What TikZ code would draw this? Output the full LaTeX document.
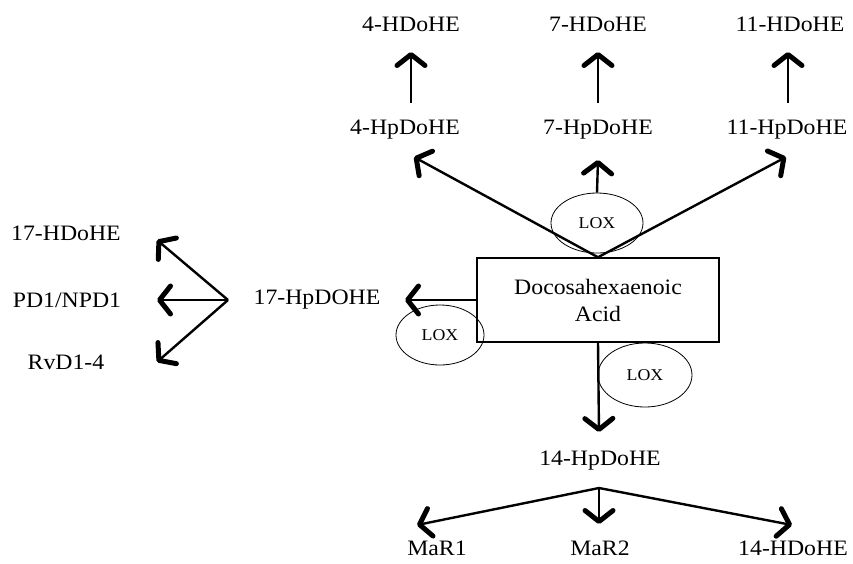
\documentclass[tikz,border=0pt]{standalone}
\usepackage{fontspec}
\setmainfont{Liberation Serif}[FakeStretch=1.08]
\usetikzlibrary{arrows.meta,shapes.geometric}
\begin{document}
\begin{tikzpicture}[x=1pt,y=-1pt,
  lbl/.style={font=\fontsize{22}{25}\selectfont, inner sep=2pt},
  lox/.style={draw, ellipse, line width=0.8pt, inner sep=0pt,
              font=\fontsize{16.5}{18}\selectfont},
  acidbox/.style={draw, line width=1.5pt, minimum width=242pt, minimum height=84pt,
                  align=center, font=\fontsize{22}{27}\selectfont},
  arr/.style={line width=2.4pt,
              -{Straight Barb[length=11pt,width=28pt,line width=5pt 0,round]}}]
\useasboundingbox (0,0) rectangle (853,563);

% upper branch products
\node[lbl] (h4)  at (411,24) {4-HDoHE};
\node[lbl] (h7)  at (598,24) {7-HDoHE};
\node[lbl] (h11) at (790,24) {11-HDoHE};
\node[lbl] (hp4)  at (405,130) {4-HpDoHE};
\node[lbl] (hp7)  at (598,130) {7-HpDoHE};
\node[lbl] (hp11) at (787,130) {11-HpDoHE};

% central substrate
\node[acidbox] (dha) at (598,300) {Docosahexaenoic\\Acid};

% enzymes
\node[lox, minimum width=92pt, minimum height=60pt] (lox1) at (597,223) {LOX};
\node[lox, minimum width=88pt, minimum height=60pt] (lox2) at (440,335) {LOX};
\node[lox, minimum width=94pt, minimum height=64pt] (lox3) at (645,375) {LOX};

% left branch
\node[lbl] (hp17) at (317,300) {17-HpDOHE};
\node[lbl] (h17)  at (66,233) {17-HDoHE};
\node[lbl] (pd1)  at (67,300) {PD1/NPD1};
\node[lbl] (rvd)  at (66,362) {RvD1-4};

% lower branch
\node[lbl] (hp14) at (600,461) {14-HpDoHE};
\node[lbl] (mar1) at (437,548) {MaR1};
\node[lbl] (mar2) at (600,548) {MaR2};
\node[lbl] (h14)  at (793,548) {14-HDoHE};

% arrow ends and junction points
\coordinate (s4)  at (411,103);  \coordinate (e4)  at (411,52);
\coordinate (s7)  at (598,103);  \coordinate (e7)  at (598,52);
\coordinate (s11) at (788,103);  \coordinate (e11) at (788,52);
\coordinate (t4)  at (414,157);
\coordinate (t7)  at (598,160);
\coordinate (t11) at (786,157);
\coordinate (t17) at (405,300);
\coordinate (t14) at (599,432);
\coordinate (fork17) at (228,300);
\coordinate (a17) at (157,240);
\coordinate (apd) at (157,300);
\coordinate (arv) at (157,362);
\coordinate (fork14) at (599,488);
\coordinate (am1) at (417,525);
\coordinate (am2) at (599,524);
\coordinate (ah14) at (792,525);

% reductions of the hydroperoxides
\draw[arr] (s4) -- (e4);
\draw[arr] (s7) -- (e7);
\draw[arr] (s11) -- (e11);

% oxygenation of DHA
\draw[arr] (dha.north) -- (t4);
\draw[arr] (dha.north) -- (t11);
\draw[arr] (lox1.north) -- (t7);
\draw[arr] (dha.west) -- (t17);
\draw[arr] (dha.south) -- (t14);

% 17-HpDOHE products
\draw[arr] (fork17) -- (a17);
\draw[arr] (fork17) -- (apd);
\draw[arr] (fork17) -- (arv);

% 14-HpDoHE products
\draw[arr] (fork14) -- (am1);
\draw[arr] (fork14) -- (am2);
\draw[arr] (fork14) -- (ah14);
\end{tikzpicture}
\end{document}
